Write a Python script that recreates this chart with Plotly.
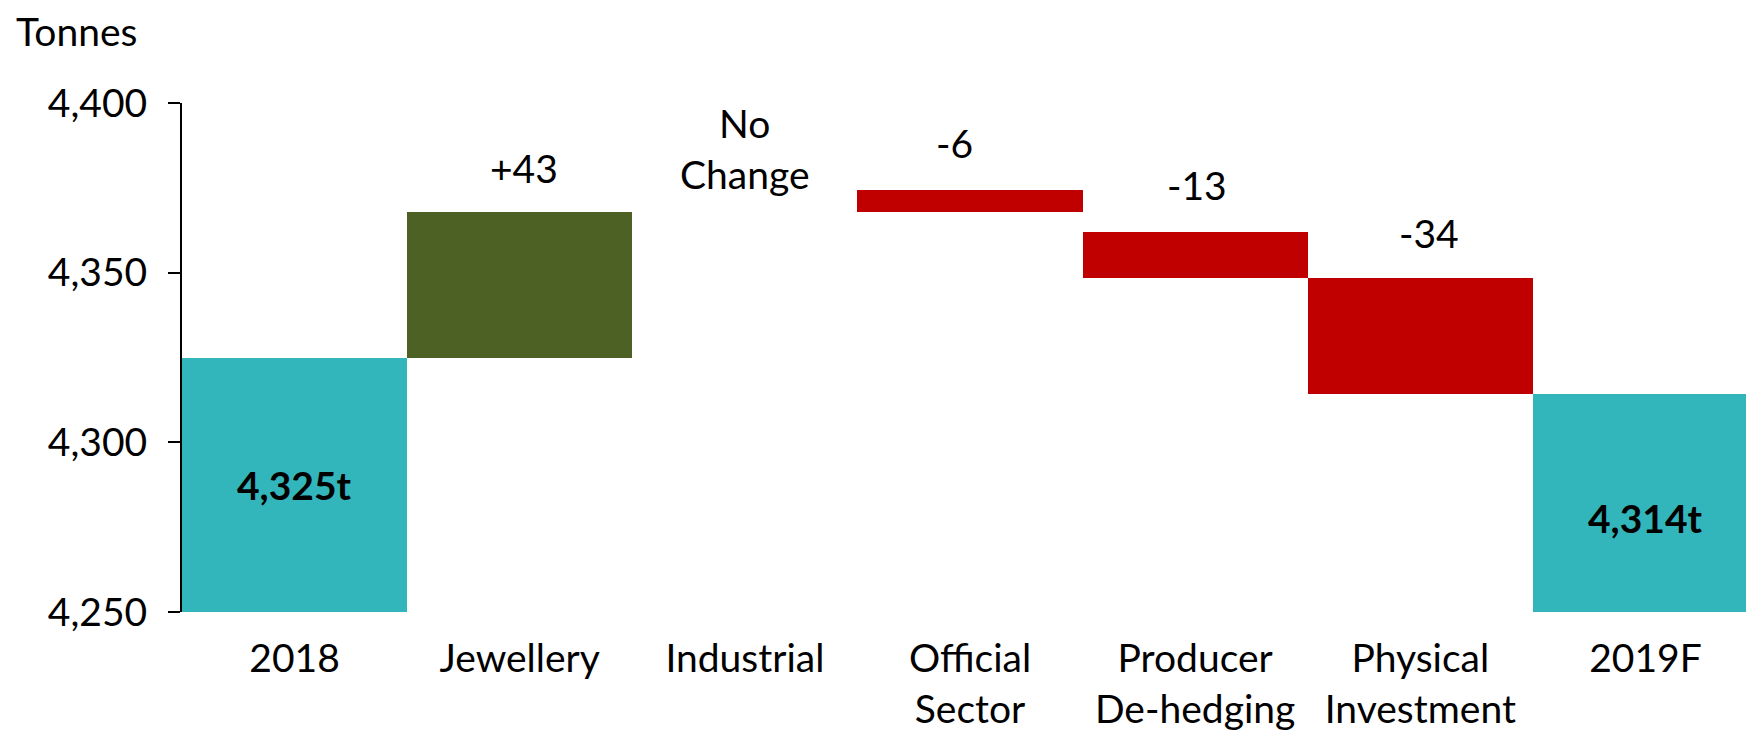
import plotly.graph_objects as go

# ---- data ----
categories = ["2018", "Jewellery", "Industrial", "Official<br>Sector",
              "Producer<br>De-hedging", "Physical<br>Investment", "2019F"]
bar_bottom = [0, 4325, 4368, 4368, 4348.5, 4314.3, 0]
bar_top = [4325, 4368, 4368, 4374.5, 4362, 4348.5, 4314.3]
change_labels = ["", "+43", "No<br>Change", "-6", "-13", "-34", ""]
total_labels = ["4,325t", "", "", "", "", "", "4,314t"]
bar_colors = ["#33B6BB", "#4E6125", "#C00000", "#C00000", "#C00000", "#C00000", "#33B6BB"]
y_ticks = [4250, 4300, 4350, 4400]
y_range = [4250, 4400]

# ---- styling ----
FONT = "Lato"
FS = 39
change_yshift = [0, 44, 63, 47, 47, 45, 0]
change_xshift = [0, 4, 0, -16, 2, 9, 0]
total_yshift = [0, 0, 0, 0, 0, 0, -15]

heights = [t - b for t, b in zip(bar_top, bar_bottom)]

fig = go.Figure()
fig.add_trace(go.Bar(
    x=categories, y=heights, base=bar_bottom,
    marker=dict(color=bar_colors, line=dict(width=0)),
    hoverinfo="skip", showlegend=False,
))

annotations = []
for i, lab in enumerate(change_labels):
    if lab:
        annotations.append(dict(
            x=i, y=bar_top[i], xref="x", yref="y", text=lab,
            showarrow=False, yanchor="middle", yshift=change_yshift[i],
            xshift=change_xshift[i], font=dict(family=FONT, size=FS, color="black"),
        ))
for i, lab in enumerate(total_labels):
    if lab:
        mid = (max(bar_bottom[i], y_range[0]) + bar_top[i]) / 2
        annotations.append(dict(
            x=i, y=mid, xref="x", yref="y", text="<b>" + lab + "</b>",
            showarrow=False, yanchor="middle", yshift=total_yshift[i],
            font=dict(family=FONT, size=FS, color="black"),
        ))
annotations.append(dict(
    x=0, y=1, xref="paper", yref="paper", text="Tonnes", showarrow=False,
    xanchor="left", yanchor="middle", xshift=-168, yshift=72,
    font=dict(family=FONT, size=FS, color="black"),
))

fig.update_layout(
    width=1754, height=733,
    margin=dict(l=174, r=4, t=95, b=129),
    paper_bgcolor="white", plot_bgcolor="white",
    bargap=0,
    font=dict(family=FONT, size=FS, color="black"),
    annotations=annotations,
    xaxis=dict(type="category", showline=False, showgrid=False, zeroline=False, ticks="",
               ticklabelstandoff=20, tickfont=dict(family=FONT, size=FS, color="black")),
    yaxis=dict(range=y_range, tickvals=y_ticks, tickformat=",", showgrid=False,
               zeroline=False, showline=True, linecolor="black", linewidth=2,
               ticks="outside", ticklen=12, tickwidth=2, tickcolor="black",
               ticklabelstandoff=13, tickfont=dict(family=FONT, size=FS, color="black")),
)

fig.write_html("out.html")
